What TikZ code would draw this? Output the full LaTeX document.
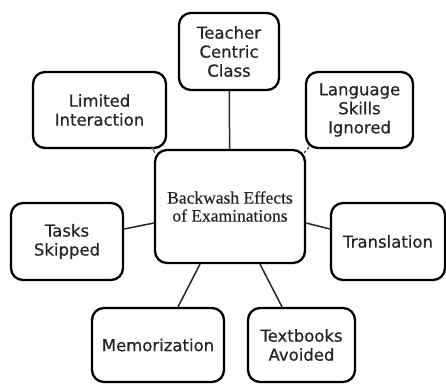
\documentclass[tikz,border=0pt]{standalone}
\usepackage{fontspec}
\setmainfont{DejaVu Sans}
\newfontfamily\boxfont{DejaVu Sans}[FakeBold=0.6]
\newfontfamily\centerfont{Liberation Serif}[FakeBold=0.5]
\begin{document}
\begin{tikzpicture}[x=1pt,y=-1pt,
  box/.style={draw=black, line width=2.3pt, rounded corners=12pt, fill=white, inner sep=0pt,
    align=center, text=black!85, font=\boxfont\fontsize{16.5}{19}\selectfont},
  link/.style={draw=black!85, line width=1.5pt}]
\useasboundingbox[fill=white] (0,0) rectangle (446,383);
\node[box, minimum width=100pt, minimum height=77pt] (teacher) at (229,51.5) {Teacher\\Centric\\Class};
\node[box, minimum width=133pt, minimum height=76pt] (limited) at (99.5,110) {Limited\\Interaction};
\node[box, minimum width=107pt, minimum height=76pt] (lang) at (359.5,110) {Language\\Skills\\Ignored};
\node[box, minimum width=150pt, minimum height=113pt, font=\centerfont\fontsize{17.5}{18}\selectfont] (center) at (230,206.5) {Backwash Effects\\of Examinations};
\node[box, minimum width=112pt, minimum height=77pt] (tasks) at (67,241.5) {Tasks\\Skipped};
\node[box, minimum width=114pt, minimum height=77pt] (trans) at (388,241.5) {Translation};
\node[box, minimum width=132pt, minimum height=74pt] (memo) at (158,345) {Memorization};
\node[box, minimum width=107pt, minimum height=74pt] (text) at (301.5,345) {Textbooks\\Avoided};
\draw[link] (teacher) -- (center);
\draw[link] ([yshift=12.5pt]tasks.east) -- ([yshift=-16.5pt]center.west);
\draw[link] ([yshift=-16.5pt]center.east) -- ([yshift=12.5pt]trans.west);
\draw[link] ([xshift=-30pt]center.south) -- ([xshift=20pt]memo.north);
\draw[link] ([xshift=30pt]center.south) -- ([xshift=-19.5pt]text.north);
\coordinate (lmark) at (151.5,146.5);
\coordinate (rmark) at (309,147);
\draw[blue!30!gray, line width=1.2pt] (lmark) -- ([xshift=1pt,yshift=-4pt]center.north west);
\draw[black!80, line width=1.2pt, dash pattern=on 3pt off 2pt] (rmark) -- ([xshift=-2pt,yshift=-4pt]center.north east);
\end{tikzpicture}
\end{document}
